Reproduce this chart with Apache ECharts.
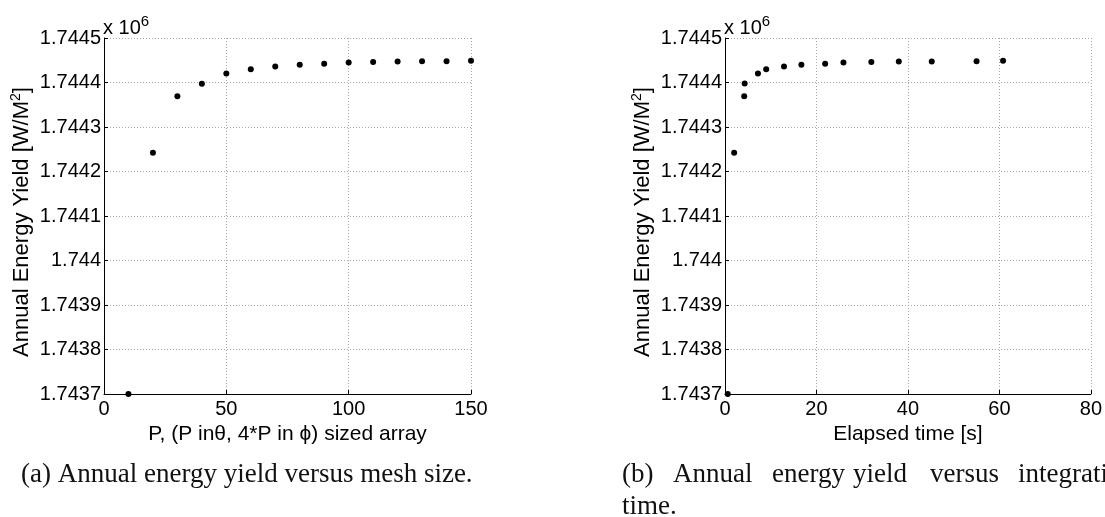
<!DOCTYPE html>
<html>
<head>
<meta charset="utf-8">
<script src="https://cdn.jsdelivr.net/npm/echarts@6/dist/echarts.min.js"></script>
<style>html,body{margin:0;padding:0;background:#fff;}#c{width:1105px;height:517px;}</style>
</head>
<body>
<div id="c"></div>
<script>
// Left panel: mesh size P vs annual energy yield
const meshP = [10, 20, 30, 40, 50, 60, 70, 80, 90, 100, 110, 120, 130, 140, 150];
const meshYield = [1743700, 1744242, 1744369, 1744397, 1744420, 1744430, 1744436, 1744440, 1744442, 1744445, 1744446, 1744447, 1744448, 1744448, 1744449];
// Right panel: elapsed time vs annual energy yield
const elapsedTime = [0.6, 2.0, 4.2, 4.3, 7.2, 9.0, 12.9, 16.7, 21.9, 25.9, 32.0, 38.0, 45.2, 55.0, 60.8];
const timeYield = [1743700, 1744242, 1744369, 1744398, 1744420, 1744430, 1744436, 1744440, 1744442, 1744445, 1744446, 1744447, 1744447, 1744448, 1744449];
const yTicks = {min: 1743700, max: 1744500, interval: 100};
const xLeftTicks = {min: 0, max: 150, interval: 50};
const xRightTicks = {min: 0, max: 80, interval: 20};
const yLabelText = 'Annual Energy Yield [W/M{s|2}]';
const xLeftName = 'P, (P in\u03b8, 4*P in \u03d5) sized array';
const xRightName = 'Elapsed time [s]';
const captionA = '(a) Annual energy yield versus mesh size.';
const captionBWords = ['(b)', 'Annual', 'energy', 'yield', 'versus', 'integration'];
const captionBLine2 = 'time.';

const SANS = 'Liberation Sans, Arial, sans-serif';
const SERIF = 'Liberation Serif, Times New Roman, serif';
const FS = 20;
const FSX = 21;
const FSY = 22;
const CAP = 27;

const chart = echarts.init(document.getElementById('c'), null, {renderer: 'canvas'});

function fmtY(v) { return String(Number((v / 1e6).toFixed(4))); }

function xAxisCfg(idx, t, name) {
  return {
    type: 'value', gridIndex: idx, min: t.min, max: t.max, interval: t.interval,
    name: name, nameLocation: 'middle', nameGap: 29,
    nameTextStyle: {color: '#000', fontFamily: SANS, fontSize: FSX},
    axisLine: {show: true, onZero: false, lineStyle: {color: '#000', width: 1}},
    axisTick: {show: true, inside: true, length: 4, lineStyle: {color: '#000'}},
    axisLabel: {color: '#000', fontFamily: SANS, fontSize: FS, margin: 5},
    splitLine: {show: true, lineStyle: {color: '#a8a8a8', type: [1, 2], width: 1}}
  };
}
function yAxisCfg(idx) {
  return {
    type: 'value', gridIndex: idx, min: yTicks.min, max: yTicks.max, interval: yTicks.interval,
    axisLine: {show: true, onZero: false, lineStyle: {color: '#000', width: 1}},
    axisTick: {show: true, inside: true, length: 4, lineStyle: {color: '#000'}},
    axisLabel: {color: '#000', fontFamily: SANS, fontSize: FS, margin: 3, formatter: fmtY},
    splitLine: {show: true, lineStyle: {color: '#a8a8a8', type: [1, 2], width: 1}}
  };
}
function pairs(xs, ys) { return xs.map((x, i) => [x, ys[i]]); }

const graphics = [];
// y-axis labels (rotated)
[22, 643].forEach(cx => {
  graphics.push({
    type: 'text', x: cx, y: 222, rotation: Math.PI / 2,
    style: {text: yLabelText, fill: '#000', font: FSY + 'px ' + SANS, align: 'center', verticalAlign: 'middle',
      rich: {s: {fontSize: 14, fontFamily: SANS, fill: '#000', padding: [0, 0, 12, 0]}}}
  });
});
// exponent labels
[103, 724].forEach(lx => {
  graphics.push({
    type: 'text', x: lx, y: 43,
    style: {text: 'x 10{s|6}', fill: '#000', font: FS + 'px ' + SANS, align: 'left', verticalAlign: 'bottom',
      rich: {s: {fontSize: 15, fontFamily: SANS, fill: '#000', padding: [0, 0, 14, 0]}}}
  });
});
// caption a
graphics.push({type: 'text', x: 21, y: 475, style: {text: captionA, fill: '#111', font: CAP + 'px ' + SERIF, align: 'left', verticalAlign: 'middle'}});
// caption b (justified words)
const bX = [622, 673, 772, 853, 930, 1018];
captionBWords.forEach((w, i) => {
  graphics.push({type: 'text', x: bX[i], y: 475, style: {text: w, fill: '#111', font: CAP + 'px ' + SERIF, align: 'left', verticalAlign: 'middle'}});
});
graphics.push({type: 'text', x: 622, y: 507, style: {text: captionBLine2, fill: '#111', font: CAP + 'px ' + SERIF, align: 'left', verticalAlign: 'middle'}});

chart.setOption({
  animation: false,
  backgroundColor: '#fff',
  grid: [
    {left: 104, right: 1105 - 471, top: 38, bottom: 517 - 394},
    {left: 725, right: 1105 - 1091, top: 38, bottom: 517 - 394}
  ],
  xAxis: [xAxisCfg(0, xLeftTicks, xLeftName), xAxisCfg(1, xRightTicks, xRightName)],
  yAxis: [yAxisCfg(0), yAxisCfg(1)],
  series: [
    {type: 'scatter', xAxisIndex: 0, yAxisIndex: 0, data: pairs(meshP, meshYield), symbol: 'circle', symbolSize: 6, itemStyle: {color: '#000', opacity: 1}, clip: false},
    {type: 'scatter', xAxisIndex: 1, yAxisIndex: 1, data: pairs(elapsedTime, timeYield), symbol: 'circle', symbolSize: 6, itemStyle: {color: '#000', opacity: 1}, clip: false}
  ],
  graphic: graphics
});
</script>
</body>
</html>
